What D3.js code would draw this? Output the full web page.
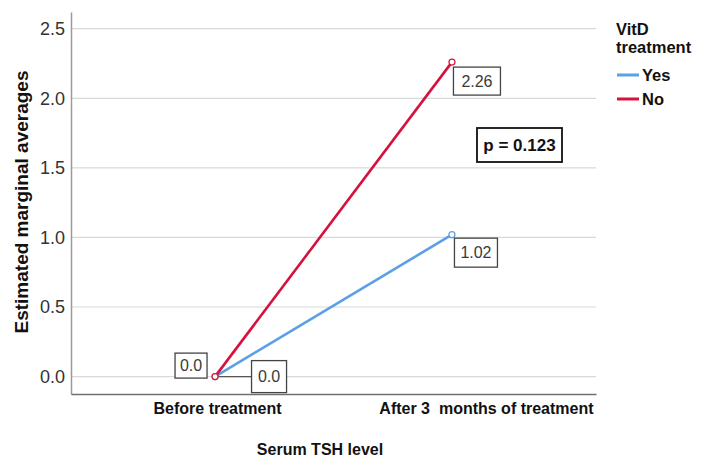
<!DOCTYPE html>
<html>
<head>
<meta charset="utf-8">
<script src="https://cdn.jsdelivr.net/npm/d3@7"></script>
<style>
  body { margin: 0; background: #fff; }
  svg { display: block; font-family: "Liberation Sans", Arial, sans-serif; }
</style>
</head>
<body>
<div id="chart"></div>
<script>
const categories = ['Before treatment', 'After 3  months of treatment'];
const yesValues = [0.0, 1.02];
const noValues = [0.0, 2.26];
const yTicks = [0.0, 0.5, 1.0, 1.5, 2.0, 2.5];
const seriesNames = ['Yes', 'No'];
const pLabel = 'p = 0.123';

const W = 707, H = 468;
const colors = { Yes: '#5b9fe6', No: '#d6123c' };

const svg = d3.select('#chart').append('svg')
    .attr('width', W)
    .attr('height', H);

const x = d3.scalePoint()
    .domain(categories)
    .range([71, 596])
    .padding(0.608);

const y = d3.scaleLinear()
    .domain([-0.125, 2.62])
    .range([394, 12]);

// gridlines
svg.append('g')
    .selectAll('line')
    .data(yTicks)
    .enter().append('line')
    .attr('x1', 71)
    .attr('x2', 596)
    .attr('y1', d => y(d))
    .attr('y2', d => y(d))
    .attr('stroke', '#d9d9d9')
    .attr('stroke-width', 1.2);

// y axis
const yAxis = svg.append('g')
    .attr('transform', 'translate(71,0)')
    .call(d3.axisLeft(y).tickValues(yTicks).tickFormat(d3.format('.1f')).tickSize(0).tickPadding(6));
yAxis.select('.domain').attr('stroke', '#9a9a9a').attr('stroke-width', 1.5);
yAxis.selectAll('text')
    .style('font-size', '18px')
    .style('fill', '#333')
    .style('font-family', '"Liberation Sans", Arial, sans-serif');

// x axis
const labelShift = [2, 34];
const xAxis = svg.append('g')
    .attr('transform', 'translate(0,394)')
    .call(d3.axisBottom(x).tickSize(0).tickPadding(9));
xAxis.select('.domain').attr('stroke', '#707070').attr('stroke-width', 1.5);
xAxis.selectAll('text')
    .attr('dx', (d, i) => labelShift[i])
    .style('font-size', '16px')
    .style('font-weight', 'bold')
    .style('fill', '#111')
    .style('font-family', '"Liberation Sans", Arial, sans-serif')
    .style('white-space', 'pre');

// axis titles
svg.append('text')
    .attr('transform', 'translate(28,202) rotate(-90)')
    .attr('text-anchor', 'middle')
    .style('font-size', '19px')
    .style('font-weight', 'bold')
    .style('fill', '#111')
    .text('Estimated marginal averages');

svg.append('text')
    .attr('x', 320)
    .attr('y', 455)
    .attr('text-anchor', 'middle')
    .style('font-size', '16px')
    .style('font-weight', 'bold')
    .style('fill', '#111')
    .text('Serum TSH level');

// leader from origin point to right 0.0 label
svg.append('line')
    .attr('x1', x(categories[0]))
    .attr('x2', 252)
    .attr('y1', y(0))
    .attr('y2', y(0))
    .attr('stroke', '#555')
    .attr('stroke-width', 1.2);

// series lines
const series = [
    { name: 'Yes', values: yesValues },
    { name: 'No', values: noValues }
];
const line = d3.line()
    .x((d, i) => x(categories[i]))
    .y(d => y(d));

series.forEach(s => {
    svg.append('path')
        .datum(s.values)
        .attr('d', line)
        .attr('fill', 'none')
        .attr('stroke', colors[s.name])
        .attr('stroke-width', 2.6);
    svg.selectAll('.pt-' + s.name)
        .data(s.values)
        .enter().append('circle')
        .attr('cx', (d, i) => x(categories[i]))
        .attr('cy', d => y(d))
        .attr('r', 3)
        .attr('fill', '#fff')
        .attr('stroke', colors[s.name])
        .attr('stroke-width', 1.2);
});

// value boxes
function valueBox(cx, cy, w, h, txt, opts) {
    opts = opts || {};
    svg.append('rect')
        .attr('x', cx - w / 2)
        .attr('y', cy - h / 2)
        .attr('width', w)
        .attr('height', h)
        .attr('fill', '#fff')
        .attr('stroke', opts.stroke || '#444')
        .attr('stroke-width', opts.sw || 1.3);
    svg.append('text')
        .attr('x', cx)
        .attr('y', cy)
        .attr('dy', '0.36em')
        .attr('text-anchor', 'middle')
        .style('font-size', (opts.size || 16) + 'px')
        .style('font-weight', opts.bold ? 'bold' : 'normal')
        .style('fill', opts.fill || '#3a3a3a')
        .text(txt);
}

const after = categories[1], before = categories[0];
valueBox(x(after) + 25, y(noValues[1]) + 19, 47, 28, d3.format('.2f')(noValues[1]));
valueBox(x(after) + 24, y(yesValues[1]) + 18, 43, 29, d3.format('.2f')(yesValues[1]));
valueBox(x(before) - 24, y(noValues[0]) - 11, 32, 25, d3.format('.1f')(noValues[0]));
valueBox(x(before) + 54, y(yesValues[0]) + 0, 35, 32, d3.format('.1f')(yesValues[0]));
valueBox(519.5, 145, 85, 34, pLabel, { stroke: '#111', sw: 1.8, size: 17, bold: true, fill: '#111' });

// legend
const legend = svg.append('g').attr('transform', 'translate(616,0)');
legend.append('text')
    .attr('x', 0).attr('y', 35)
    .style('font-size', '16.5px').style('font-weight', 'bold').style('fill', '#111')
    .text('VitD');
legend.append('text')
    .attr('x', 0).attr('y', 53)
    .style('font-size', '16.5px').style('font-weight', 'bold').style('fill', '#111')
    .text('treatment');
seriesNames.forEach((name, i) => {
    const ly = 75 + i * 24;
    legend.append('line')
        .attr('x1', 1).attr('x2', 23)
        .attr('y1', ly).attr('y2', ly)
        .attr('stroke', colors[name])
        .attr('stroke-width', 3);
    legend.append('text')
        .attr('x', 26).attr('y', ly)
        .attr('dy', '0.36em')
        .style('font-size', '16.5px').style('font-weight', 'bold').style('fill', '#111')
        .text(name);
});
</script>
</body>
</html>
